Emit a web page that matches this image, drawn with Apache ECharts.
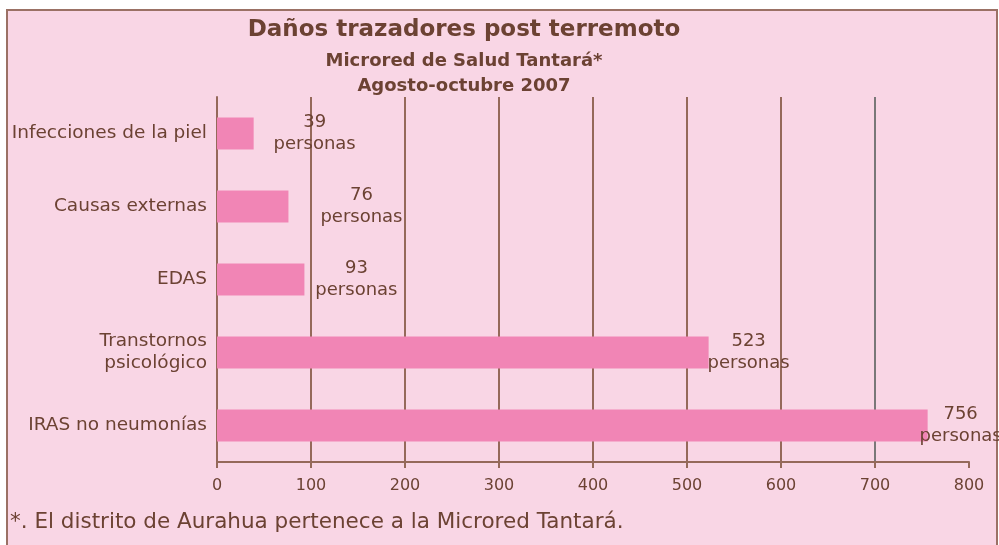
<!DOCTYPE html>
<html>
<head>
<meta charset="utf-8">
<script src="https://cdn.jsdelivr.net/npm/echarts@6/dist/echarts.min.js"></script>
<style>
html,body{margin:0;padding:0;background:#ffffff;}
#frame{position:absolute;left:6px;top:9px;width:988px;height:560px;border:2px solid #9b7165;background:#f9d6e5;}
#chart{position:absolute;left:0;top:0;width:999px;height:545px;}
</style>
</head>
<body>
<div id="frame"></div>
<div id="chart"></div>
<script>
const categories = ['Infecciones de la piel', 'Causas externas', 'EDAS', 'Transtornos\npsicológico', 'IRAS no neumonías'];
const values = [39, 76, 93, 523, 756];
const titleText = 'Daños trazadores post terremoto';
const subtitle1 = 'Microred de Salud Tantará*';
const subtitle2 = 'Agosto-octubre 2007';
const footnote = '*. El distrito de Aurahua pertenece a la Microred Tantará.';

// label placement (style only): distance from bar end to label centre
const labelDistance = [61, 73, 52, 40, 33];

const brown = '#95695a';
const textColor = '#6c4233';
const font = 'DejaVu Sans, Verdana, sans-serif';

const chart = echarts.init(document.getElementById('chart'), null, {renderer: 'canvas'});
chart.setOption({
  backgroundColor: 'transparent',
  animation: false,
  grid: {left: 217, right: 30, top: 97, bottom: 83, containLabel: false},
  xAxis: {
    type: 'value', min: 0, max: 800, interval: 100,
    axisLine: {show: true, lineStyle: {color: brown, width: 2}},
    axisTick: {show: true, inside: false, length: 6, lineStyle: {color: brown, width: 2}},
    axisLabel: {color: textColor, fontFamily: font, fontSize: 16, margin: 16},
    splitLine: {show: true, lineStyle: {width: 2, color: [brown, brown, brown, brown, brown, brown, brown, '#7a7878', 'rgba(0,0,0,0)']}}
  },
  yAxis: {
    type: 'category', data: categories, inverse: true,
    axisLine: {show: true, lineStyle: {color: brown, width: 2}},
    axisTick: {show: false},
    axisLabel: {color: textColor, fontFamily: font, fontSize: 18.5, lineHeight: 22, margin: 10, align: 'right'}
  },
  series: [{
    type: 'bar',
    data: values.map((v, i) => ({value: v, label: {distance: labelDistance[i]}})),
    barWidth: 32,
    itemStyle: {color: '#f185b5'},
    label: {
      show: true, position: 'right', distance: 50, align: 'center',
      formatter: '{c}\npersonas',
      color: textColor, fontFamily: font, fontSize: 18, lineHeight: 22
    }
  }],
  graphic: [
    {type: 'text', x: 464, y: 30, style: {text: titleText, fill: textColor, font: 'bold 23px ' + font, textAlign: 'center', textVerticalAlign: 'middle'}},
    {type: 'text', x: 464, y: 61, style: {text: subtitle1, fill: textColor, font: 'bold 18px ' + font, textAlign: 'center', textVerticalAlign: 'middle'}},
    {type: 'text', x: 464, y: 86, style: {text: subtitle2, fill: textColor, font: 'bold 18px ' + font, textAlign: 'center', textVerticalAlign: 'middle'}},
    {type: 'text', x: 10, y: 522, style: {text: footnote, fill: textColor, font: '21.5px ' + font, textAlign: 'left', textVerticalAlign: 'middle'}}
  ]
});
</script>
</body>
</html>
